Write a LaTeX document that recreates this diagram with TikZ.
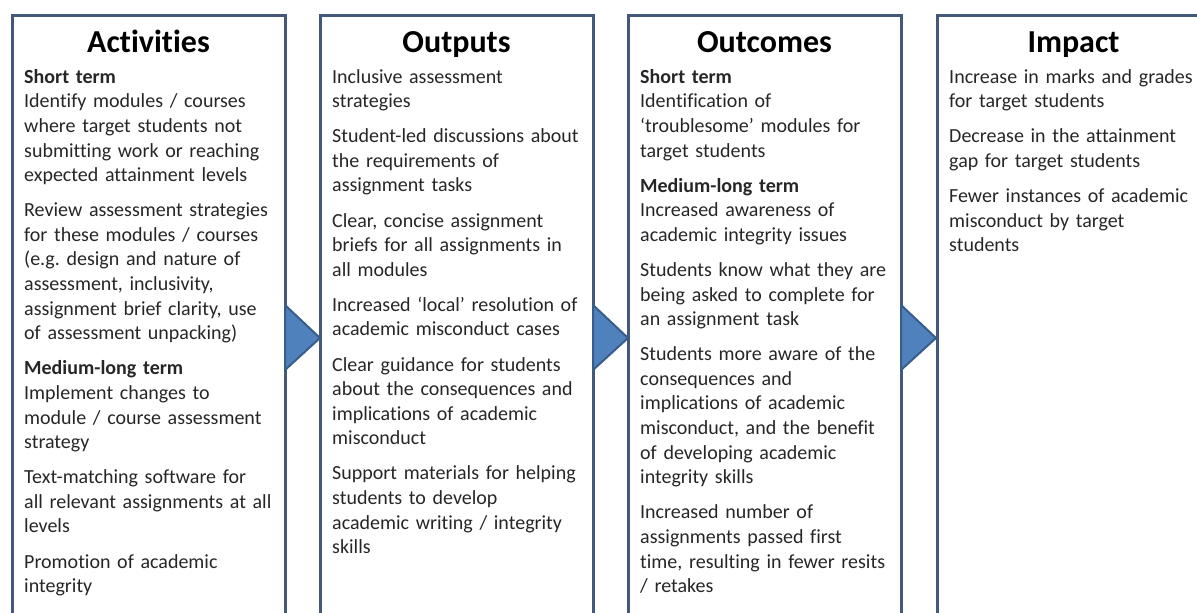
\documentclass[tikz,border=0pt]{standalone}
\usepackage{fontspec}
\setmainfont{Carlito}[Ligatures=NoCommon]
\usetikzlibrary{positioning,calc}
\definecolor{frameblue}{RGB}{68,88,124}
\definecolor{arrowfill}{RGB}{79,129,189}
\definecolor{arrowline}{RGB}{56,93,138}
\definecolor{bodygrey}{RGB}{38,38,38}
\tikzset{%
    column/.style={inner sep=0pt,outer sep=0pt,shape=rectangle,draw=frameblue,line width=3pt,minimum width=273pt,minimum height=640pt,anchor=north west},
    heading/.style={inner sep=0pt,anchor=base,font=\fontsize{32}{38}\selectfont\bfseries},
    bodytext/.style={inner sep=0pt,anchor=north west,align=left,text width=262pt,text=bodygrey,font=\fontsize{20}{24.6}\selectfont\frenchspacing},
    flow/.style={fill=arrowfill,draw=arrowline,line width=2pt,line join=miter},
}
\newcommand{\gap}{\\[10.5pt]}

\begin{document}
\begin{tikzpicture}[x=1pt,y=1pt]
        \useasboundingbox (0,0) rectangle (1197,613);
        \clip (0,0) rectangle (1197,613);

        \node [column] (act) at (12,597) {};
        \node [column] (outp) at (320,597) {};
        \node [column] (outc) at (628,597) {};
        \node [column] (imp) at (937,597) {};

        \node [heading] (acttitle) at ($(act.north)+(0,-37)$) {Activities};
        \node [heading] (outptitle) at ($(outp.north)+(0,-37)$) {Outputs};
        \node [heading] (outctitle) at ($(outc.north)+(0,-37)$) {Outcomes};
        \node [heading] (imptitle) at ($(imp.north)+(0,-37)$) {Impact};

        \node [bodytext] (actbody) at ($(act.north west)+(12,-53)$) {%
            \textbf{Short term}\\
            Identify modules / courses\\
            where target students not\\
            submitting work or reaching\\
            expected attainment levels\gap
            Review assessment strategies\\
            for these modules / courses\\
            (e.g. design and nature of\\
            assessment, inclusivity,\\
            assignment brief clarity, use\\
            of assessment unpacking)\gap
            \textbf{Medium-long term}\\
            Implement changes to\\
            module / course assessment\\
            strategy\gap
            Text-matching software for\\
            all relevant assignments at all\\
            levels\gap
            Promotion of academic\\
            integrity};

        \node [bodytext] (outpbody) at ($(outp.north west)+(12,-53)$) {%
            Inclusive assessment\\
            strategies\gap
            Student-led discussions about\\
            the requirements of\\
            assignment tasks\gap
            Clear, concise assignment\\
            briefs for all assignments in\\
            all modules\gap
            Increased ‘local’ resolution of\\
            academic misconduct cases\gap
            Clear guidance for students\\
            about the consequences and\\
            implications of academic\\
            misconduct\gap
            Support materials for helping\\
            students to develop\\
            academic writing / integrity\\
            skills};

        \node [bodytext] (outcbody) at ($(outc.north west)+(12,-53)$) {%
            \textbf{Short term}\\
            Identification of\\
            ‘troublesome’ modules for\\
            target students\gap
            \textbf{Medium-long term}\\
            Increased awareness of\\
            academic integrity issues\gap
            Students know what they are\\
            being asked to complete for\\
            an assignment task\gap
            Students more aware of the\\
            consequences and\\
            implications of academic\\
            misconduct, and the benefit\\
            of developing academic\\
            integrity skills\gap
            Increased number of\\
            assignments passed first\\
            time, resulting in fewer resits\\
            / retakes};

        \node [bodytext] (impbody) at ($(imp.north west)+(12,-53)$) {%
            Increase in marks and grades\\
            for target students\gap
            Decrease in the attainment\\
            gap for target students\gap
            Fewer instances of academic\\
            misconduct by target\\
            students};

        % arrows between the columns
        \draw [flow] ($(act.north east)+(0,-289)$) -- ++(35,-33) -- ++(-35,-32) -- cycle;
        \draw [flow] ($(outp.north east)+(0,-289)$) -- ++(35,-33) -- ++(-35,-32) -- cycle;
        \draw [flow] ($(outc.north east)+(0,-289)$) -- ++(35,-33) -- ++(-35,-32) -- cycle;
\end{tikzpicture}
\end{document}
